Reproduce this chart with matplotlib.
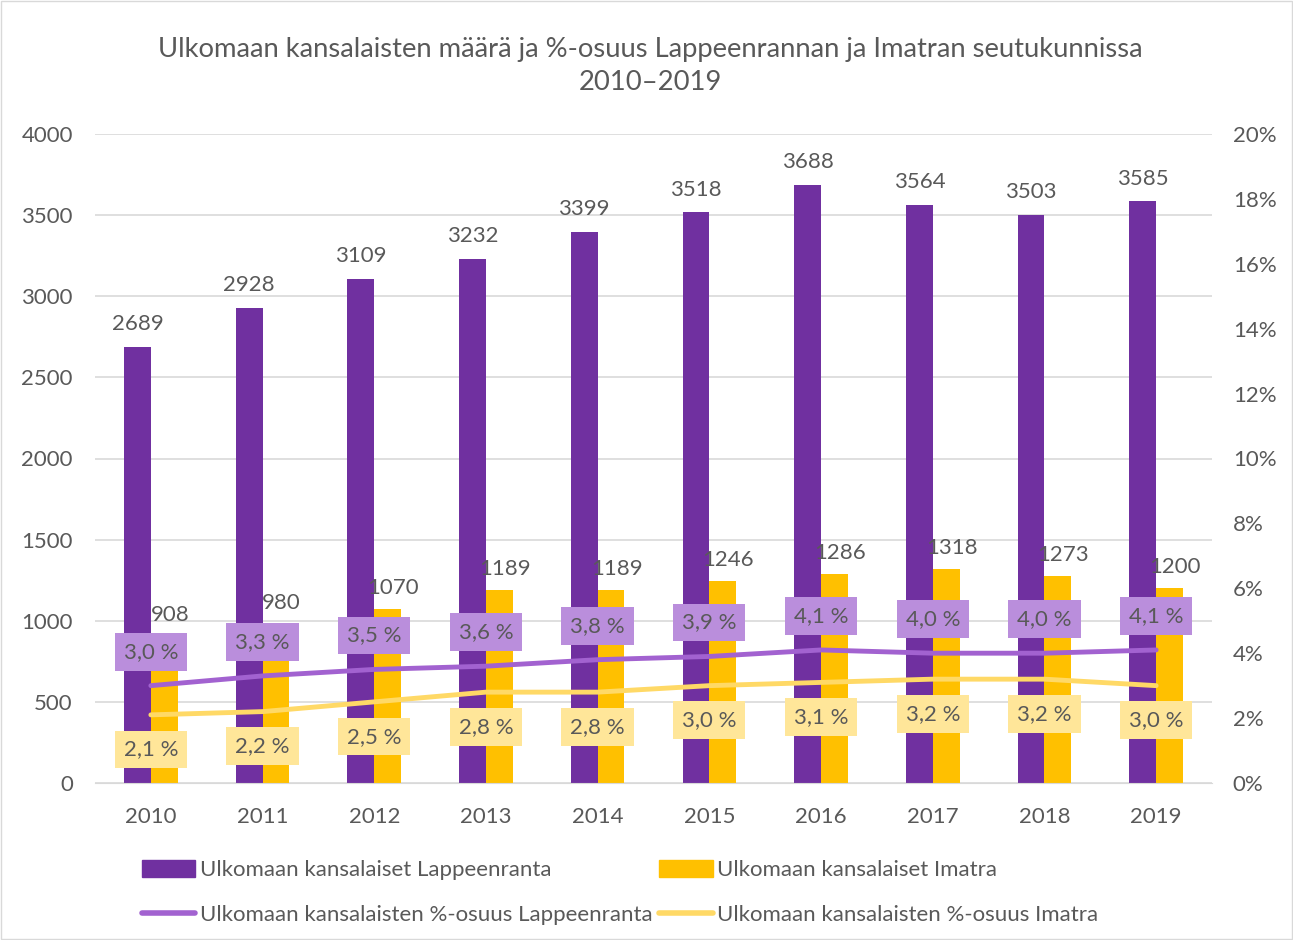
import matplotlib
matplotlib.use("Agg")
import matplotlib.pyplot as plt
from matplotlib.patches import Rectangle
from matplotlib.lines import Line2D
from matplotlib.patches import Patch

plt.rcParams['font.family'] = ['Lato', 'DejaVu Sans']

years = ['2010', '2011', '2012', '2013', '2014', '2015', '2016', '2017', '2018', '2019']
lpr_count = [2689, 2928, 3109, 3232, 3399, 3518, 3688, 3564, 3503, 3585]
ima_count = [908, 980, 1070, 1189, 1189, 1246, 1286, 1318, 1273, 1200]
lpr_pct = [3.0, 3.3, 3.5, 3.6, 3.8, 3.9, 4.1, 4.0, 4.0, 4.1]
ima_pct = [2.1, 2.2, 2.5, 2.8, 2.8, 3.0, 3.1, 3.2, 3.2, 3.0]

title = "Ulkomaan kansalaisten määrä ja %-osuus Lappeenrannan ja Imatran seutukunnissa\n2010–2019"
names = ["Ulkomaan kansalaiset Lappeenranta", "Ulkomaan kansalaiset Imatra",
         "Ulkomaan kansalaisten %-osuus Lappeenranta", "Ulkomaan kansalaisten %-osuus Imatra"]

TXT = '#595959'
C_LB = '#7030A0'
C_IB = '#FFC000'
C_LL = '#A262D0'
C_IL = '#FFD966'
C_LBOX = '#BA8EDC'
C_IBOX = '#FFE699'
FS = 16

fig = plt.figure(figsize=(12.93, 9.40), dpi=100)
fig.patches.append(Rectangle((0.001, 0.001), 0.998, 0.998, transform=fig.transFigure,
                             fill=False, edgecolor='#D9D9D9', linewidth=1))
ax = fig.add_axes([95/1293, 1-783/940, (1212-95)/1293, (783-134)/940])
ax2 = ax.twinx()

x = list(range(len(years)))
w = 0.24
ax.bar([i - w/2 for i in x], lpr_count, width=w, color=C_LB, zorder=2)
ax.bar([i + w/2 for i in x], ima_count, width=w, color=C_IB, zorder=2)
ax.set_ylim(0, 4000)
ax.set_xlim(-0.5, len(years) - 0.5)
ax.set_yticks(range(0, 4001, 500))
ax.yaxis.grid(True, color='#D9D9D9', linewidth=1.2, zorder=0)
ax.set_axisbelow(True)
ax.set_xticks(x)
ax.set_xticklabels(years)
for s in ax.spines.values():
    s.set_visible(False)
ax.spines['bottom'].set_visible(True)
ax.spines['bottom'].set_color('#D9D9D9')
ax.tick_params(axis='both', length=0, labelsize=FS, colors=TXT)
ax.tick_params(axis='y', pad=16)
ax.tick_params(axis='x', pad=17)

for i, v in enumerate(lpr_count):
    ax.annotate(str(v), (i - w/2, v), xytext=(0, 9), textcoords='offset points',
                ha='center', va='bottom', fontsize=FS, color=TXT, zorder=5)
for i, v in enumerate(ima_count):
    ax.annotate(str(v), (i + w/2, v), xytext=(4, 8), textcoords='offset points',
                ha='center', va='bottom', fontsize=FS, color=TXT, zorder=5)

ax2.plot(x, lpr_pct, color=C_LL, linewidth=3.5, solid_capstyle='round', zorder=3)
ax2.plot(x, ima_pct, color=C_IL, linewidth=3.5, solid_capstyle='round', zorder=3)
ax2.set_ylim(0, 20)
ax2.set_yticks(range(0, 21, 2))
ax2.set_yticklabels([f"{t}%" for t in range(0, 21, 2)])
for s in ax2.spines.values():
    s.set_visible(False)
ax2.tick_params(axis='y', length=0, labelsize=FS, colors=TXT, pad=15)

for i, v in enumerate(lpr_pct):
    ax2.annotate(f"{v:.1f} %".replace('.', ','), (i, v), xytext=(0, 24.5), textcoords='offset points',
                 ha='center', va='center', fontsize=FS, color=TXT, zorder=6,
                 bbox=dict(boxstyle='square,pad=0.4', facecolor=C_LBOX, edgecolor='none'))
for i, v in enumerate(ima_pct):
    ax2.annotate(f"{v:.1f} %".replace('.', ','), (i, v), xytext=(0, -25), textcoords='offset points',
                 ha='center', va='center', fontsize=FS, color=TXT, zorder=6,
                 bbox=dict(boxstyle='square,pad=0.4', facecolor=C_IBOX, edgecolor='none'))

fig.text(650/1293, 1-66/940, title, ha='center', va='center', fontsize=19.7, color=TXT,
         linespacing=1.45)

handles = [Patch(color=C_LB), Line2D([], [], color=C_LL, linewidth=4, solid_capstyle='round'),
           Patch(color=C_IB), Line2D([], [], color=C_IL, linewidth=4, solid_capstyle='round')]
labels = [names[0], names[2], names[1], names[3]]
fig.legend(handles, labels, ncol=2, loc='upper left', bbox_to_anchor=(131/1293, 1-849/940),
           frameon=False, fontsize=FS, labelcolor=TXT, handlelength=2.4, handleheight=0.75,
           handletextpad=0.2, columnspacing=0.3, labelspacing=1.12, borderpad=0)

fig.savefig('out.png', dpi=100)
